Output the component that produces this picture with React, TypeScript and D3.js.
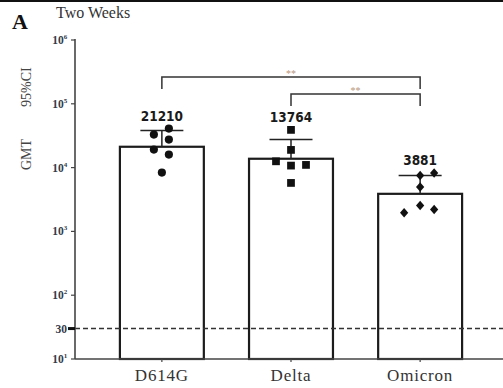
import React from "react";
import * as d3 from "d3";

const variants = ["D614G", "Delta", "Omicron"];
const gmtValues = [21210, 13764, 3881];
const upper95 = [38000, 27500, 7550];
const d614gPoints = [32900, 40850, 27480, 19150, 16000, 8350];
const deltaPoints = [39000, 18940, 12550, 10750, 11020, 5750];
const omicronPoints = [7550, 8200, 4950, 2555, 1965, 2210];
const pointGroups = [d614gPoints, deltaPoints, omicronPoints];
// horizontal scatter of the dots inside each bar
const jitter = [
  [-8, 7, 7, -8, 7, 0],
  [0, 0, -15, 0, 15, 0],
  [0, 14, 0, 0, -16, 14],
];
const yTickPowers = [1, 2, 3, 4, 5, 6];
const cutoff = 30;
const comparisons = [
  { from: "D614G", to: "Omicron", label: "**" },
  { from: "Delta", to: "Omicron", label: "**" },
];

const W = 503;
const H = 388;
const margin = { left: 75, top: 40, bottom: 29 };

const diamond = {
  draw(ctx: any, size: number) {
    const r = Math.sqrt(size) / 2;
    ctx.moveTo(0, -r * 1.15);
    ctx.lineTo(r, 0);
    ctx.lineTo(0, r * 1.15);
    ctx.lineTo(-r, 0);
    ctx.closePath();
  },
};
const symbolTypes = [d3.symbolCircle, d3.symbolSquare, diamond];
const symbolSizes = [52, 60, 68];

export default function App() {
  const y = d3
    .scaleLog()
    .domain([10, 1e6])
    .range([H - margin.bottom, margin.top]);
  const x = d3
    .scaleBand()
    .domain(variants)
    .range([76, 506])
    .paddingInner(0.35)
    .paddingOuter(0.34);
  const bw = x.bandwidth();
  const cx = (v: string) => (x(v) as number) + bw / 2;
  const y0 = H - margin.bottom;

  const serif = "'Liberation Serif', 'Times New Roman', serif";
  const narrow =
    "'DejaVu Sans Condensed', 'Liberation Sans Narrow', 'Arial Narrow', sans-serif";

  const bracketY = [77, 94];

  return (
    <svg
      width={W}
      height={H}
      style={{ position: "absolute", left: 0, top: 0, background: "#fff" }}
    >
      <line x1={0} x2={W} y1={1} y2={1} stroke="#111" strokeWidth={2} />
      <text x={12} y={29} fontFamily={serif} fontWeight="bold" fontSize={22} fill="#111">
        A
      </text>
      <text x={56} y={18} fontFamily={serif} fontSize={16} fill="#333">
        Two Weeks
      </text>

      {/* y label */}
      <g fontFamily={serif} fontSize={14} fill="#444">
        <text transform={`translate(31,170) rotate(-90)`}>GMT</text>
        <text transform={`translate(31,107) rotate(-90)`}>95%CI</text>
      </g>

      {/* bars */}
      {variants.map((v, i) => (
        <rect
          key={v}
          x={x(v)}
          y={y(gmtValues[i])}
          width={bw}
          height={y0 - y(gmtValues[i])}
          fill="#fff"
          stroke="#1c1c1c"
          strokeWidth={2.2}
        />
      ))}

      {/* cutoff */}
      <line
        x1={margin.left}
        x2={W}
        y1={y(cutoff)}
        y2={y(cutoff)}
        stroke="#333"
        strokeWidth={1.5}
        strokeDasharray="5,3"
      />

      {/* error bars */}
      {variants.map((v, i) => (
        <g key={v} stroke="#222" strokeWidth={1.5}>
          <line x1={cx(v)} x2={cx(v)} y1={y(gmtValues[i])} y2={y(upper95[i])} />
          <line x1={cx(v) - 21.5} x2={cx(v) + 21.5} y1={y(upper95[i])} y2={y(upper95[i])} />
        </g>
      ))}

      {/* points */}
      {pointGroups.map((pts, gi) => {
        const sym = d3.symbol().type(symbolTypes[gi] as any).size(symbolSizes[gi]);
        return pts.map((p, j) => (
          <path
            key={`${gi}-${j}`}
            d={sym() as string}
            transform={`translate(${cx(variants[gi]) + jitter[gi][j]},${y(p)})`}
            fill="#111"
          />
        ));
      })}

      {/* value labels */}
      {variants.map((v, i) => (
        <text
          key={v}
          x={cx(v)}
          y={y(d3.max(pointGroups[i]) as number) - 8}
          textAnchor="middle"
          fontFamily={narrow}
          fontWeight="bold"
          fontSize={13.5}
          fill="#1a1a1a"
        >
          {gmtValues[i]}
        </text>
      ))}

      {/* significance brackets */}
      {comparisons.map((c, i) => {
        const yb = bracketY[i];
        const x1 = cx(c.from);
        const x2 = cx(c.to);
        return (
          <g key={i}>
            <path
              d={`M${x1},${yb + 12}V${yb}H${x2}V${yb + 12}`}
              fill="none"
              stroke="#333"
              strokeWidth={1.5}
            />
            <text
              x={(x1 + x2) / 2}
              y={yb - 0.5}
              textAnchor="middle"
              fontFamily={serif}
              fontSize={10}
              fill="#b8957c"
            >
              {c.label}
            </text>
          </g>
        );
      })}

      {/* y axis */}
      <line x1={margin.left} x2={margin.left} y1={margin.top - 1} y2={y0} stroke="#444" strokeWidth={1.6} />
      {yTickPowers.map((p) => (
        <g key={p} transform={`translate(0,${y(Math.pow(10, p))})`}>
          <line x1={margin.left - 4} x2={margin.left} stroke="#444" strokeWidth={1.2} />
          <text
            x={margin.left - 6}
            y={4}
            textAnchor="end"
            fontFamily={serif}
            fontWeight="bold"
            fontSize={11.5}
            fill="#333a48"
          >
            10
            <tspan dy={-5} fontSize={7}>
              {p}
            </tspan>
            <tspan dy={5} fontSize={7}>
              {"\u00a0"}
            </tspan>
          </text>
        </g>
      ))}
      <g transform={`translate(0,${y(cutoff)})`}>
        <line x1={margin.left - 7} x2={margin.left} stroke="#111" strokeWidth={3} />
        <text
          x={margin.left - 8}
          y={4}
          textAnchor="end"
          fontFamily={serif}
          fontWeight="bold"
          fontSize={11.5}
          fill="#333a48"
        >
          {cutoff}
        </text>
      </g>

      {/* x axis */}
      <line x1={margin.left} x2={W} y1={y0} y2={y0} stroke="#444" strokeWidth={1.6} />
      {variants.map((v) => (
        <g key={v} transform={`translate(${cx(v)},${y0})`}>
          <line y1={0} y2={3} stroke="#444" strokeWidth={1.2} />
          <text
            y={22}
            textAnchor="middle"
            fontFamily={serif}
            fontSize={17}
            letterSpacing={0.8}
            fill="#333"
          >
            {v}
          </text>
        </g>
      ))}
    </svg>
  );
}
